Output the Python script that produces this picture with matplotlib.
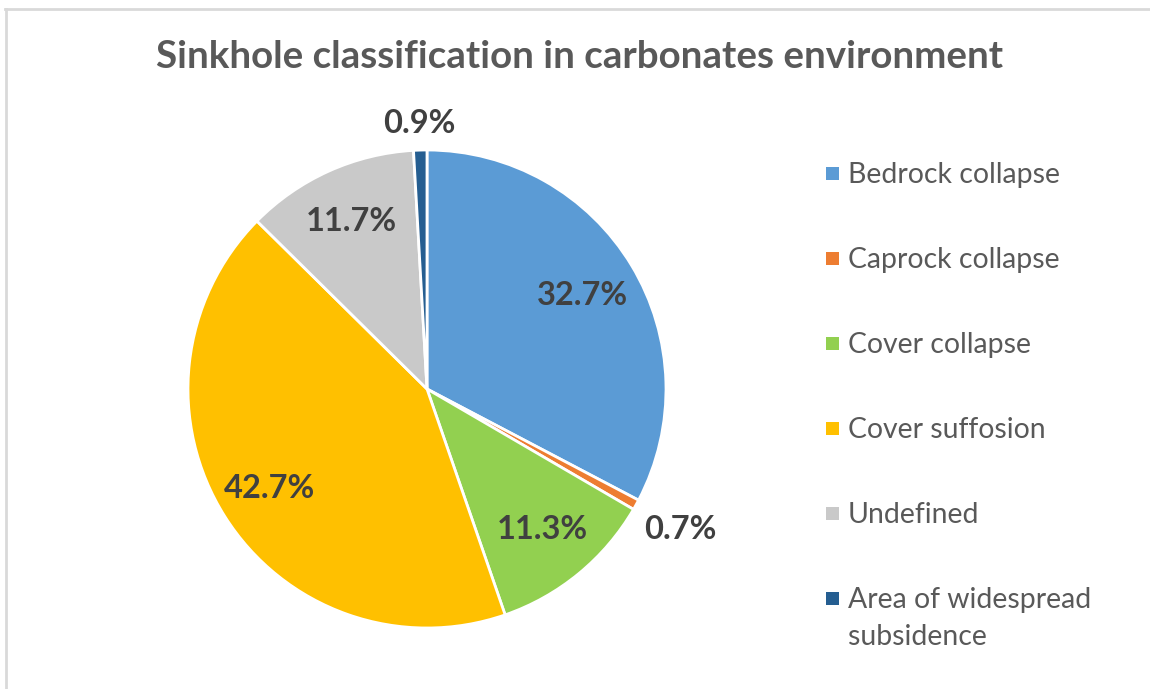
import numpy as np
import matplotlib.pyplot as plt
from matplotlib.lines import Line2D
from matplotlib.patches import Rectangle

plt.rcParams['font.family'] = ['Lato', 'DejaVu Sans']

categories = ["Bedrock collapse", "Caprock collapse", "Cover collapse",
              "Cover suffosion", "Undefined", "Area of widespread\nsubsidence"]
shares = [32.7, 0.7, 11.3, 42.7, 11.7, 0.9]
colors = ["#5B9BD5", "#ED7D31", "#92D050", "#FFC000", "#C9C9C9", "#255E91"]
# radial position of each percentage label (fraction of radius)
label_r = [0.76, 1.21, 0.76, 0.78, 0.77, 1.11]

W, H = 1150, 689
fig = plt.figure(figsize=(W / 100, H / 100), dpi=100)

# chart frame (top and left edges only)
fig.add_artist(Line2D([5 / W, 1], [1 - 9 / H, 1 - 9 / H], color="#D9D9D9", lw=2))
fig.add_artist(Line2D([6 / W, 6 / W], [0, 1 - 9 / H], color="#D9D9D9", lw=2))

cx, cy, R = 427, 389, 239
ax = fig.add_axes([(cx - R) / W, (H - cy - R) / H, 2 * R / W, 2 * R / H])
wedges, _ = ax.pie(shares, colors=colors, startangle=90, counterclock=False,
                   radius=1.0, wedgeprops=dict(edgecolor="white", linewidth=2))
ax.set_xlim(-1, 1)
ax.set_ylim(-1, 1)
ax.set_aspect("equal")
ax.axis("off")

for w, v, r in zip(wedges, shares, label_r):
    ang = np.deg2rad((w.theta1 + w.theta2) / 2)
    ax.text(r * np.cos(ang), r * np.sin(ang), f"{v:.1f}%", ha="center", va="center",
            fontsize=23.5, fontweight="bold", color="#404040")

fig.text(580 / W, 1 - 57 / H, "Sinkhole classification in carbonates environment",
         ha="center", va="center", fontsize=27.7, fontweight="bold", color="#595959")

# legend, drawn line by line
for i, (lab, c) in enumerate(zip(categories, colors)):
    y = 173 + i * 85
    fig.add_artist(Rectangle(((832 - 6.5) / W, 1 - (y + 6.5) / H), 13 / W, 13 / H,
                             transform=fig.transFigure, color=c, lw=0))
    for j, line in enumerate(lab.split("\n")):
        fig.text(848 / W, 1 - (y + 10 + 37 * j) / H, line, ha="left", va="baseline",
                 fontsize=20.4, color="#595959")

fig.savefig("out.png", dpi=100)
